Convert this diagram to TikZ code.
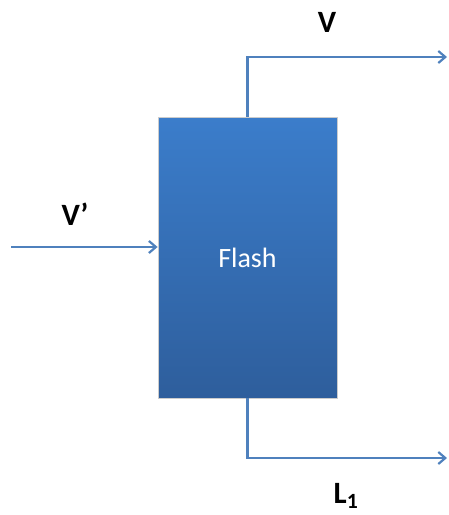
\documentclass[tikz,border=0pt]{standalone}
\usepackage{fontspec}
\setmainfont{Carlito}
\usetikzlibrary{arrows.meta,positioning,calc}
\definecolor{flowblue}{HTML}{4F81BD}
\definecolor{boxtop}{HTML}{3B7DCB}
\definecolor{boxbot}{HTML}{2E5E9C}
\begin{document}
\begin{tikzpicture}[x=1pt,y=-1pt,
  unitbox/.style={rectangle,draw=gray!40,line width=0.8pt,top color=boxtop,bottom color=boxbot,
    minimum width=179pt,minimum height=281pt,inner sep=0pt,text=white,font=\fontsize{28}{30}\selectfont},
  stream/.style={draw=flowblue,line width=2.8pt,-{Straight Barb[length=7pt,width=12pt,line width=2.2pt]}},
  lbl/.style={font=\bfseries\fontsize{31}{33}\selectfont,inner sep=0pt}]
 \useasboundingbox (0,0) rectangle (448,515);

 % ---- flash drum ----
 \node[unitbox] (flash) at (247.5,257.5) {\raisebox{-5pt}{Flash}};

 % ---- stream ends ----
 \coordinate (feed) at (11,247);
 \coordinate (vapout) at (447,57);
 \coordinate (liqout) at (447,458);

 % ---- streams ----
 \draw[stream] (feed) -- (feed -| flash.west);
 \draw[stream] (flash.north) |- (vapout);
 \draw[stream] (flash.south) |- (liqout);

 % ---- labels ----
 \node[lbl] (vlab) at (327,22) {V};
 \node[lbl] (vplab) at (75,214) {V’};
 \node[lbl] (llab) at (346,496) {L$_{\mathbf{1}}$};
\end{tikzpicture}
\end{document}
